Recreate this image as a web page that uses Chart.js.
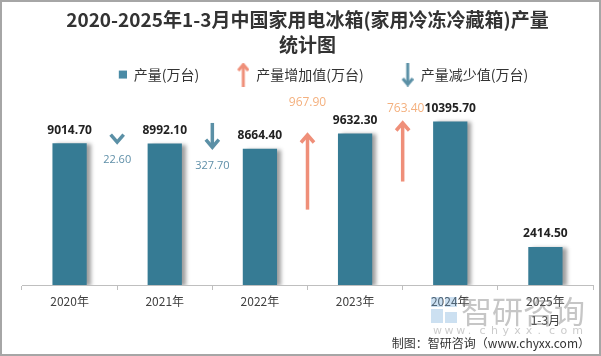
<!DOCTYPE html>
<html>
<head>
<meta charset="utf-8">
<script src="https://cdn.jsdelivr.net/npm/chart.js@4/dist/chart.umd.min.js"></script>
<style>
html,body{margin:0;padding:0;background:#fff;}
canvas{display:block;}
</style>
</head>
<body>
<canvas id="c" width="601" height="356"></canvas>
<script>
// ---- data ----
const categories = [['2020年'], ['2021年'], ['2022年'], ['2023年'], ['2024年'], ['2025年', '1-3月']];
const production = [9014.7, 8992.1, 8664.4, 9632.3, 10395.7, 2414.5];
const changes = [-22.6, -327.7, 967.9, 763.4];           // year-on-year change between consecutive years
const changeLabels = ['22.60', '327.70', '967.90', '763.40'];
const legendLabels = ['产量(万台)', '产量增加值(万台)', '产量减少值(万台)'];
const titleLines = ['2020-2025年1-3月中国家用电冰箱(家用冷冻冷藏箱)产量', '统计图'];

// ---- styles ----
const BAR = '#367b94';
const UP = '#ef8f79';
const UP_TXT = '#f4b07e';
const DOWN = '#5b90a6';
const DOWN_TXT = '#5f8fa8';
const ARROW_SCALE = 5;
const labelOffsets = [16, 17, -31, -13]; // px from arrow tip

function legendIcon(kind) {
  const cv = document.createElement('canvas');
  cv.width = 40; cv.height = 24;
  const g = cv.getContext('2d');
  if (kind === 'square') {
    g.fillStyle = '#4a8ba6';
    g.fillRect(32, 8, 8, 8);
  } else {
    const up = kind === 'up';
    g.strokeStyle = up ? UP : DOWN;
    g.lineWidth = 3;
    g.lineCap = 'butt';
    const x = 34;
    const tip = up ? 2 : 22, tail = up ? 24 : 0;
    g.beginPath(); g.moveTo(x, tail); g.lineTo(x, tip + (up ? 1 : -1)); g.stroke();
    g.beginPath();
    g.moveTo(x - 5, tip + (up ? 6 : -6)); g.lineTo(x, tip); g.lineTo(x + 5, tip + (up ? 6 : -6));
    g.stroke();
  }
  return cv;
}
const icons = [legendIcon('square'), legendIcon('up'), legendIcon('down')];

const bgPlugin = {
  id: 'bg',
  beforeDraw(chart) {
    const c = chart.ctx;
    c.save(); c.fillStyle = '#fff'; c.fillRect(0, 0, chart.width, chart.height); c.restore();
  }
};

const shadowPlugin = {
  id: 'barShadow',
  beforeDatasetDraw(chart, args) {
    if (args.index !== 0) return;
    const c = chart.ctx;
    c.save();
    c.shadowColor = 'rgba(0,0,0,0.38)';
    c.shadowOffsetX = 4; c.shadowOffsetY = 1; c.shadowBlur = 4;
  },
  afterDatasetDraw(chart, args) {
    if (args.index !== 0) return;
    chart.ctx.restore();
  }
};

const labelPlugin = {
  id: 'labels',
  afterDatasetsDraw(chart) {
    const c = chart.ctx;
    const meta = chart.getDatasetMeta(0);
    const xs = chart.scales.x, ys = chart.scales.y;
    c.save();
    c.textAlign = 'center'; c.textBaseline = 'middle';
    c.font = 'bold 12px "Open Sans"';
    c.fillStyle = '#222';
    meta.data.forEach((bar, i) => {
      c.fillText(production[i].toFixed(2), bar.x, bar.y - 13);
    });
    // arrows
    changes.forEach((d, i) => {
      const x = (xs.getPixelForValue(i) + xs.getPixelForValue(i + 1)) / 2;
      const endV = production[i + 1];
      const startV = endV - d * ARROW_SCALE;
      const yTip = ys.getPixelForValue(endV);
      const yTail = ys.getPixelForValue(startV);
      const up = d > 0;
      c.strokeStyle = up ? UP : DOWN;
      c.lineWidth = 3.5;
      c.lineCap = 'butt';
      c.lineJoin = 'miter';
      const dir = up ? 1 : -1;
      c.beginPath(); c.moveTo(x, yTail); c.lineTo(x, yTip + dir * 2); c.stroke();
      c.beginPath();
      c.moveTo(x - 6.5, yTip + dir * 9); c.lineTo(x, yTip + dir * 1.5); c.lineTo(x + 6.5, yTip + dir * 9);
      c.stroke();
      c.font = up ? '12px "Open Sans"' : '11px "Open Sans"';
      c.fillStyle = up ? UP_TXT : DOWN_TXT;
      c.fillText(changeLabels[i], x + (i === 3 ? 3 : 0), yTip + labelOffsets[i]);
    });
    c.restore();
  },
  afterDraw(chart) {
    const c = chart.ctx;
    c.save();
    // watermark logo
    c.fillStyle = 'rgba(110,165,215,0.35)';
    c.fillRect(431, 297, 12, 10);
    c.fillRect(445, 297, 12, 10);
    c.fillRect(431, 309, 12, 14);
    c.fillRect(445, 312, 12, 11);
    c.font = '31px "Noto Sans CJK SC"';
    c.textBaseline = 'middle'; c.textAlign = 'left';
    c.fillStyle = 'rgba(120,120,120,0.42)';
    c.fillText('智研咨询', 461, 311);
    c.font = '11px "DejaVu Sans"';
    c.fillStyle = 'rgba(140,140,140,0.45)';
    const w = 'www.chyxx.com'.split('');
    w.forEach((ch, k) => c.fillText(ch, 433 + k * 11.6, 331));
    // source
    c.font = '12px "Noto Sans CJK SC"';
    c.fillStyle = '#333';
    c.textAlign = 'right';
    c.fillText('制图：智研咨询（www.chyxx.com）', 590, 343);
    // frame
    c.strokeStyle = '#a6a6a6';
    c.lineWidth = 2;
    c.strokeRect(1, 1, chart.width - 2, chart.height - 2);
    c.restore();
  }
};

new Chart(document.getElementById('c'), {
  type: 'bar',
  data: {
    labels: categories,
    datasets: [{
      label: legendLabels[0],
      data: production,
      backgroundColor: BAR,
      borderWidth: 0,
      categoryPercentage: 1,
      barPercentage: 0.36
    }]
  },
  options: {
    responsive: false,
    devicePixelRatio: 1,
    animation: false,
    events: [],
    layout: { padding: { left: 22, right: 8, top: 0, bottom: 0 } },
    plugins: {
      tooltip: { enabled: false },
      title: {
        display: true,
        text: titleLines,
        color: '#333',
        font: { family: '"Noto Sans CJK SC"', size: 19, weight: 'bold', lineHeight: 1.33 },
        padding: { top: 7, bottom: 0 }
      },
      legend: {
        display: true,
        labels: {
          usePointStyle: true,
          pointStyleWidth: 40,
          padding: 10,
          color: '#333',
          font: { family: '"Noto Sans CJK SC"', size: 14 },
          generateLabels: () => legendLabels.map((t, i) => ({
            text: t,
            pointStyle: icons[i],
            fillStyle: 'transparent',
            strokeStyle: 'transparent',
            lineWidth: 0,
            hidden: false,
            datasetIndex: 0,
            fontColor: '#333'
          }))
        }
      }
    },
    scales: {
      x: {
        offset: true,
        grid: { display: true, drawOnChartArea: false, drawTicks: true, tickLength: 5, color: '#bfbfbf', offset: true },
        border: { display: true, color: '#bfbfbf', width: 1 },
        ticks: {
          color: '#404040', padding: 2, maxRotation: 0, autoSkip: false,
          font: { family: '"Noto Sans CJK SC"', size: 12, lineHeight: 1.6 }
        },
        afterFit(scale) { scale.height = 71; }
      },
      y: {
        display: false,
        min: 0,
        max: 12300
      }
    }
  },
  plugins: [bgPlugin, shadowPlugin, labelPlugin]
});
</script>
</body>
</html>
